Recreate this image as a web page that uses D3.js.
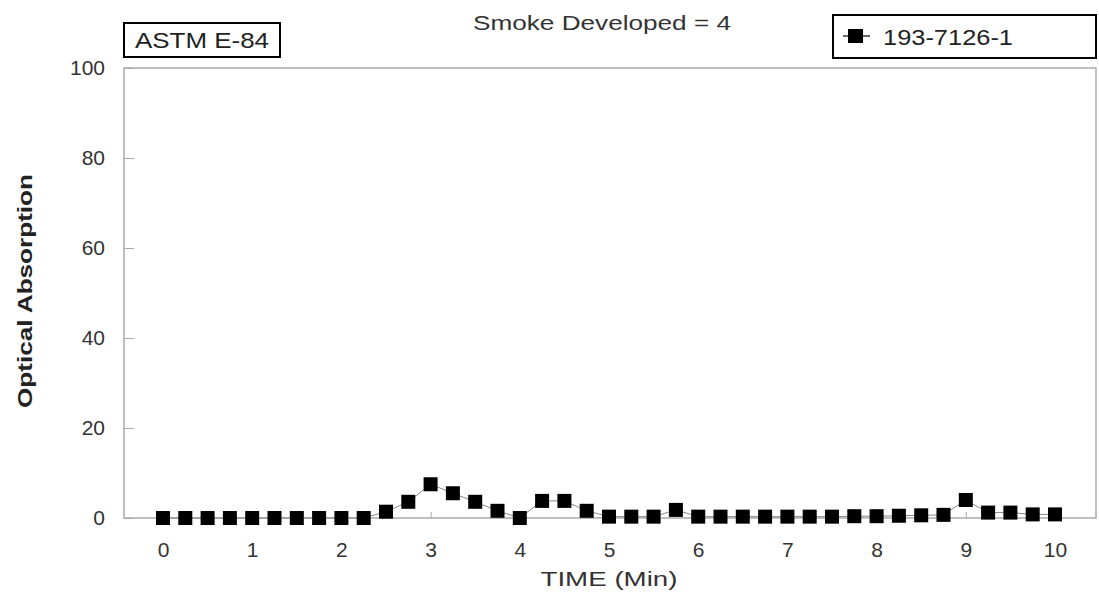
<!DOCTYPE html>
<html>
<head>
<meta charset="utf-8">
<script src="https://cdn.jsdelivr.net/npm/d3@7"></script>
<style>
  html, body { margin: 0; padding: 0; background: #fff; }
  svg { display: block; font-family: "Liberation Sans", Arial, sans-serif; }
</style>
</head>
<body>
<svg id="chart" width="1099" height="605"></svg>
<script>
// ---- data ----
const times = [0, 0.25, 0.5, 0.75, 1, 1.25, 1.5, 1.75, 2, 2.25,
  2.5, 2.75, 3, 3.25, 3.5, 3.75, 4, 4.25, 4.5, 4.75,
  5, 5.25, 5.5, 5.75, 6, 6.25, 6.5, 6.75, 7, 7.25,
  7.5, 7.75, 8, 8.25, 8.5, 8.75, 9, 9.25, 9.5, 9.75, 10];
const absorption = [0, 0, 0, 0, 0, 0, 0, 0, 0, 0,
  1.4, 3.6, 7.5, 5.5, 3.6, 1.6, 0, 3.8, 3.8, 1.6,
  0.3, 0.3, 0.3, 1.8, 0.3, 0.3, 0.3, 0.3, 0.3, 0.3,
  0.3, 0.4, 0.4, 0.5, 0.6, 0.7, 4.0, 1.2, 1.2, 0.8, 0.8];
const xTicks = [0, 1, 2, 3, 4, 5, 6, 7, 8, 9, 10];
const yTicks = [0, 20, 40, 60, 80, 100];
const seriesName = "193-7126-1";
const titleText = "Smoke Developed = 4";
const boxLabel = "ASTM E-84";
const xLabel = "TIME (Min)";
const yLabel = "Optical Absorption";

// ---- layout ----
const svg = d3.select("#chart");
const plot = { left: 124, right: 1096, top: 68, bottom: 518 };
const x = d3.scaleLinear().domain([0, 10]).range([163, 1055]);
const y = d3.scaleLinear().domain([0, 100]).range([518, 68]);
const axisColor = "#aaa";
const textColor = "#333";

// frame
svg.append("path")
  .attr("d", `M${plot.left},${plot.bottom} L${plot.left},${plot.top} L${plot.right},${plot.top} L${plot.right},${plot.bottom} Z`)
  .attr("fill", "none").attr("stroke", axisColor).attr("stroke-width", 1.5);

// y axis
const yAxis = d3.axisLeft(y).tickValues(yTicks).tickSize(-10).tickPadding(19);
const gy = svg.append("g").attr("transform", `translate(${plot.left},0)`).call(yAxis);
gy.select(".domain").remove();
gy.selectAll(".tick line").attr("stroke", axisColor);
gy.selectAll(".tick text").attr("fill", textColor).style("font-size", "21px");

// x axis
const xAxis = d3.axisBottom(x).tickValues(xTicks).tickSize(-6).tickPadding(24);
const gx = svg.append("g").attr("transform", `translate(0,${plot.bottom})`).call(xAxis);
gx.select(".domain").remove();
gx.selectAll(".tick line").attr("stroke", axisColor);
gx.selectAll(".tick text").attr("fill", textColor).style("font-size", "21px");

// series line
const pts = times.map((t, i) => [t, absorption[i]]);
svg.append("path")
  .datum(pts)
  .attr("fill", "none").attr("stroke", "#888").attr("stroke-width", 1)
  .attr("d", d3.line().x(d => x(d[0])).y(d => y(d[1])));

// markers
const ms = 14;
svg.append("g").selectAll("rect").data(pts).join("rect")
  .attr("x", d => x(d[0]) - ms / 2)
  .attr("y", d => y(d[1]) - ms / 2)
  .attr("width", ms).attr("height", ms)
  .attr("fill", "#000");

// title
svg.append("text").attr("x", 602).attr("y", 30)
  .attr("text-anchor", "middle").attr("fill", textColor)
  .attr("textLength", 258).attr("lengthAdjust", "spacingAndGlyphs")
  .style("font-size", "21px").text(titleText);

// ASTM box
svg.append("rect").attr("x", 124).attr("y", 23).attr("width", 156).attr("height", 34)
  .attr("fill", "#fff").attr("stroke", "#000").attr("stroke-width", 2);
svg.append("text").attr("x", 202).attr("y", 48)
  .attr("text-anchor", "middle").attr("fill", "#222")
  .attr("textLength", 134).attr("lengthAdjust", "spacingAndGlyphs")
  .style("font-size", "22px").text(boxLabel);

// legend
svg.append("rect").attr("x", 833).attr("y", 15).attr("width", 263).attr("height", 43)
  .attr("fill", "#fff").attr("stroke", "#000").attr("stroke-width", 2);
svg.append("line").attr("x1", 843).attr("x2", 870).attr("y1", 36).attr("y2", 36)
  .attr("stroke", "#333").attr("stroke-width", 1.5);
svg.append("rect").attr("x", 848).attr("y", 29).attr("width", 15).attr("height", 14).attr("fill", "#000");
svg.append("text").attr("x", 883).attr("y", 45)
  .attr("fill", "#222")
  .attr("textLength", 130).attr("lengthAdjust", "spacingAndGlyphs")
  .style("font-size", "22px").text(seriesName);

// axis labels
svg.append("text").attr("x", 609).attr("y", 586)
  .attr("text-anchor", "middle").attr("fill", textColor)
  .attr("textLength", 137).attr("lengthAdjust", "spacingAndGlyphs")
  .style("font-size", "21px").text(xLabel);
svg.append("text")
  .attr("transform", "translate(32,291) rotate(-90)")
  .attr("text-anchor", "middle").attr("fill", "#222")
  .attr("textLength", 234).attr("lengthAdjust", "spacingAndGlyphs")
  .style("font-size", "21px").style("font-weight", "bold").text(yLabel);
</script>
</body>
</html>
